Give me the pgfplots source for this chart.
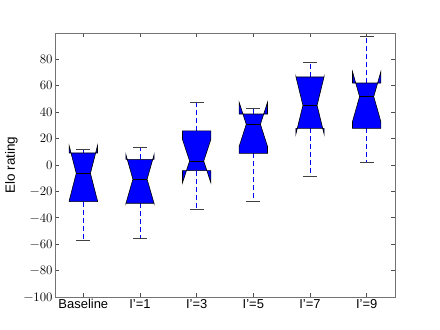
\documentclass[border=0pt]{standalone}
\usepackage{pgfplots}
\pgfplotsset{compat=1.18}
\usepackage[no-math]{fontspec}
\setmainfont{Liberation Sans}
\newfontfamily\lmr{Latin Modern Roman}
\begin{document}
\begin{tikzpicture}
\path[use as bounding box] (0,0) rectangle (440bp,330bp);
\begin{axis}[
  at={(55bp,33bp)}, anchor=south west,
  scale only axis, width=340bp, height=264bp,
  xmin=0.5, xmax=6.5, ymin=-100, ymax=100,
  xtick={1,2,3,4,5,6},
  xticklabels={Baseline, I'=1, I'=3, I'=5, I'=7, I'=9},
  ytick={-100,-80,-60,-40,-20,0,20,40,60,80},
  yticklabels={−100,−80,−60,−40,−20,0,20,40,60,80},
  tick align=inside, major tick length=4bp,
  axis line style={black!55, line width=0.9bp},
  tick style={black!70, line width=0.6bp},
  x tick label style={font=\fontsize{13}{15}\selectfont, yshift=1bp},
  y tick label style={font=\lmr\fontsize{13}{15}\selectfont, xshift=1bp},
  ylabel={Elo rating},
  ylabel style={font=\fontsize{13.5}{15}\selectfont, at={(ticklabel cs:0.5)}, anchor=south, yshift=-1bp},
  clip=false,
]
% whiskers (dashed blue)
\addplot[blue, dash pattern=on 5bp off 3bp, line width=0.7bp] coordinates {(1,-27.8) (1,-56.8)};
\addplot[blue, dash pattern=on 5bp off 3bp, line width=0.7bp] coordinates {(1,9.1) (1,12.1)};
\addplot[blue, dash pattern=on 5bp off 3bp, line width=0.7bp] coordinates {(2,-29.0) (2,-55.8)};
\addplot[blue, dash pattern=on 5bp off 3bp, line width=0.7bp] coordinates {(2,4.3) (2,13.4)};
\addplot[blue, dash pattern=on 5bp off 3bp, line width=0.7bp] coordinates {(3,-4.3) (3,-33.3)};
\addplot[blue, dash pattern=on 5bp off 3bp, line width=0.7bp] coordinates {(3,25.8) (3,47.2)};
\addplot[blue, dash pattern=on 5bp off 3bp, line width=0.7bp] coordinates {(4,8.8) (4,-27.3)};
\addplot[blue, dash pattern=on 5bp off 3bp, line width=0.7bp] coordinates {(4,38.6) (4,43.2)};
\addplot[blue, dash pattern=on 5bp off 3bp, line width=0.7bp] coordinates {(5,27.8) (5,-8.8)};
\addplot[blue, dash pattern=on 5bp off 3bp, line width=0.7bp] coordinates {(5,66.7) (5,77.8)};
\addplot[blue, dash pattern=on 5bp off 3bp, line width=0.7bp] coordinates {(6,27.8) (6,2.0)};
\addplot[blue, dash pattern=on 5bp off 3bp, line width=0.7bp] coordinates {(6,62.1) (6,97.5)};
% notched boxes
\addplot[fill=blue, draw=black, line width=0.6bp] coordinates {(0.75,-27.8) (0.75,-27.2) (0.875,-6.3) (0.75,14.6) (0.75,9.1) (1.25,9.1) (1.25,14.6) (1.125,-6.3) (1.25,-27.2) (1.25,-27.8)} -- cycle;
\addplot[fill=blue, draw=black, line width=0.6bp] coordinates {(1.75,-29.0) (1.75,-29.4) (1.875,-10.8) (1.75,8.1) (1.75,4.3) (2.25,4.3) (2.25,8.1) (2.125,-10.8) (2.25,-29.4) (2.25,-29.0)} -- cycle;
\addplot[fill=blue, draw=black, line width=0.6bp] coordinates {(2.75,-4.3) (2.75,-13.4) (2.875,3.0) (2.75,19.4) (2.75,25.8) (3.25,25.8) (3.25,19.4) (3.125,3.0) (3.25,-13.4) (3.25,-4.3)} -- cycle;
\addplot[fill=blue, draw=black, line width=0.6bp] coordinates {(3.75,8.8) (3.75,14.1) (3.875,30.8) (3.75,47.5) (3.75,38.6) (4.25,38.6) (4.25,47.5) (4.125,30.8) (4.25,14.1) (4.25,8.8)} -- cycle;
\addplot[fill=blue, draw=black, line width=0.6bp] coordinates {(4.75,27.8) (4.75,23.2) (4.875,45.2) (4.75,67.2) (4.75,66.7) (5.25,66.7) (5.25,67.2) (5.125,45.2) (5.25,23.2) (5.25,27.8)} -- cycle;
\addplot[fill=blue, draw=black, line width=0.6bp] coordinates {(5.75,27.8) (5.75,32.9) (5.875,51.8) (5.75,70.7) (5.75,62.1) (6.25,62.1) (6.25,70.7) (6.125,51.8) (6.25,32.9) (6.25,27.8)} -- cycle;
% medians
\addplot[black, line width=0.7bp] coordinates {(0.875,-6.3) (1.125,-6.3)};
\addplot[black, line width=0.7bp] coordinates {(1.875,-10.8) (2.125,-10.8)};
\addplot[black, line width=0.7bp] coordinates {(2.875,3.0) (3.125,3.0)};
\addplot[black, line width=0.7bp] coordinates {(3.875,30.8) (4.125,30.8)};
\addplot[black, line width=0.7bp] coordinates {(4.875,45.2) (5.125,45.2)};
\addplot[black, line width=0.7bp] coordinates {(5.875,51.8) (6.125,51.8)};
% caps
\addplot[black!75, line width=0.8bp] coordinates {(0.875,-56.8) (1.125,-56.8)};
\addplot[black!75, line width=0.8bp] coordinates {(0.875,12.1) (1.125,12.1)};
\addplot[black!75, line width=0.8bp] coordinates {(1.875,-55.8) (2.125,-55.8)};
\addplot[black!75, line width=0.8bp] coordinates {(1.875,13.4) (2.125,13.4)};
\addplot[black!75, line width=0.8bp] coordinates {(2.875,-33.3) (3.125,-33.3)};
\addplot[black!75, line width=0.8bp] coordinates {(2.875,47.2) (3.125,47.2)};
\addplot[black!75, line width=0.8bp] coordinates {(3.875,-27.3) (4.125,-27.3)};
\addplot[black!75, line width=0.8bp] coordinates {(3.875,43.2) (4.125,43.2)};
\addplot[black!75, line width=0.8bp] coordinates {(4.875,-8.8) (5.125,-8.8)};
\addplot[black!75, line width=0.8bp] coordinates {(4.875,77.8) (5.125,77.8)};
\addplot[black!75, line width=0.8bp] coordinates {(5.875,2.0) (6.125,2.0)};
\addplot[black!75, line width=0.8bp] coordinates {(5.875,97.5) (6.125,97.5)};
\end{axis}
\end{tikzpicture}
\end{document}
